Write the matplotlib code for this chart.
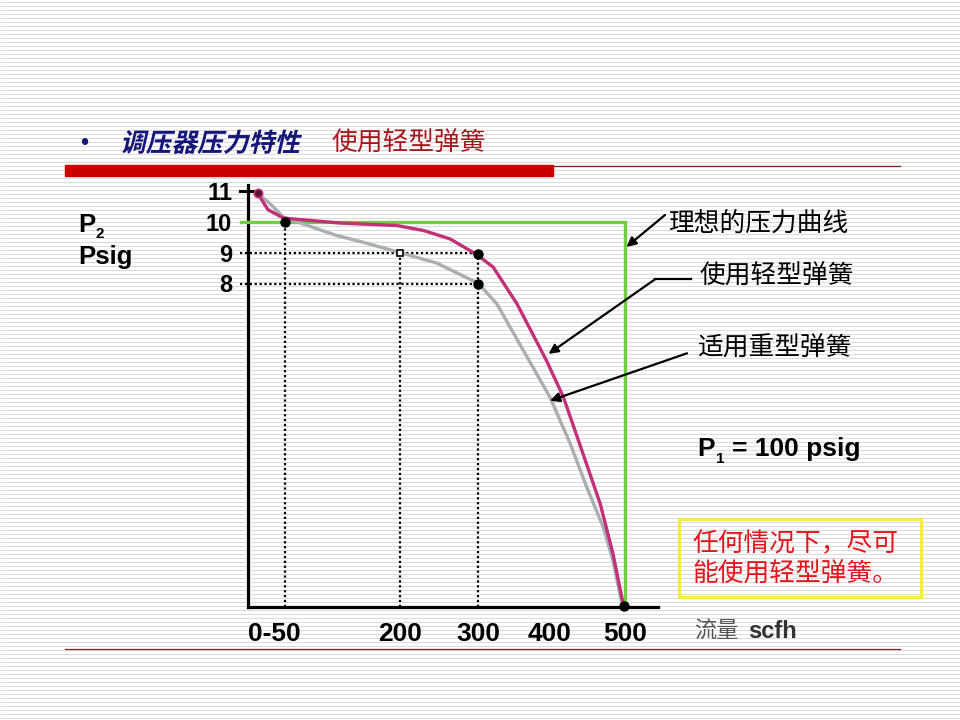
import numpy as np
import matplotlib
matplotlib.use("Agg")
import matplotlib.pyplot as plt
from matplotlib.patches import Rectangle
from matplotlib.patheffects import AbstractPathEffect
from matplotlib.transforms import Affine2D

plt.rcParams['font.family'] = ['Liberation Sans', 'Noto Sans CJK SC', 'DejaVu Sans']
CJK = ['Noto Sans CJK SC', 'DejaVu Sans']

# ---------------- data ----------------
light_x = [13, 27, 48, 122, 196, 230, 264, 298, 321, 354, 395, 418, 444, 467, 484, 493, 498]
light_y = [10.91, 10.38, 10.11, 9.95, 9.87, 9.71, 9.44, 8.94, 8.53, 7.35, 5.52, 4.33, 2.51, 0.89, -0.72, -1.80, -2.39]
heavy_x = [13, 30, 48, 117, 152, 198, 247, 300, 326, 363, 400, 427, 449, 471, 484, 496]
heavy_y = [10.91, 10.57, 10.14, 9.55, 9.33, 9.01, 8.66, 8.01, 7.35, 5.84, 4.33, 2.83, 1.43, 0.14, -0.94, -2.34]
ideal_p = 10
ideal_flow_max = 500
xtick_pos = [0, 200, 300, 400, 500]
xtick_labels = ['0-50', '200', '300', '400', '500']
ytick_pos = [8, 9, 10, 11]
ytick_labels = ['8', '9', '10', '11']
ref_points_x = [50, 300, 300, 498]
ref_points_y = [10, 8.95, 8, -2.4]
open_point = (200, 9)

# schematic (non-uniform) flow axis of the drawing: flow -> drawing units
flow_knots = [-100, 0, 50, 200, 300, 400, 500, 600]
draw_knots = [-74, 0, 37, 152, 230, 302, 377, 451]

def fwd(v):
    return np.interp(v, flow_knots, draw_knots)

def inv(v):
    return np.interp(v, draw_knots, flow_knots)


class Slant(AbstractPathEffect):
    def __init__(self, deg=12):
        super().__init__()
        self.deg = deg

    def draw_path(self, renderer, gc, tpath, affine, rgbFace=None):
        renderer.draw_path(gc, tpath, Affine2D().skew_deg(self.deg, 0) + affine, rgbFace)


W, H = 960, 720
fig = plt.figure(figsize=(9.6, 7.2), dpi=100)
fig.patch.set_facecolor('white')

# background stripes (decoration)
bg = fig.add_axes([0, 0, 1, 1], zorder=0)
bg.set_xlim(0, W); bg.set_ylim(H, 0); bg.axis('off')
for yy in np.arange(1.5, H, 4):
    bg.plot([0, W], [yy, yy], color='#dcdcdc', lw=0.8, solid_capstyle='butt')
bg.add_patch(Rectangle((65, 165), 488, 11, color='#cc0000', zorder=3))
bg.plot([553, 900], [165.5, 165.5], color='#8b1a1a', lw=0.9, zorder=3)
bg.plot([65, 900], [649, 649], color='#7a2a2a', lw=0.9, zorder=3)
bg.add_patch(Rectangle((679, 519), 242, 78, fill=False, edgecolor='#f2ef3a', lw=2.2, zorder=3))

# ---------------- main axes ----------------
ax = fig.add_axes([248 / W, 1 - 607 / H, 410 / W, (607 - 185) / H], zorder=2)
ax.set_facecolor('none')
ax.set_xscale('function', functions=(fwd, inv))
ax.set_xlim(0, float(inv(410)))
ax.set_ylim(11 - (607 - 190.5) / 31, 11 + (190.5 - 185) / 31)
for s in ['top', 'right']:
    ax.spines[s].set_visible(False)
for s in ['left', 'bottom']:
    ax.spines[s].set_linewidth(2.3)
    ax.spines[s].set_color('black')

ax.set_xticks(xtick_pos)
ax.set_xticklabels(xtick_labels, fontsize=19, fontweight='bold')
ax.set_yticks(ytick_pos)
ax.set_yticklabels(ytick_labels, fontsize=17, fontweight='bold')
ax.minorticks_off()
ax.tick_params(axis='both', which='both', length=0)
ax.tick_params(axis='x', pad=11)
ax.tick_params(axis='y', pad=11.5)
ax.get_xticklabels()[0].set_horizontalalignment('left')

ybot = ax.get_ylim()[0]
dot_ls = (0, (1, 1.2))
# tick mark at 11
ax.plot([-11, 13], [11, 11], color='black', lw=2.2, clip_on=False, zorder=4)

# dotted guides
ax.plot([-11, 300], [9, 9], color='black', lw=1.6, ls=dot_ls, clip_on=False, zorder=3)
ax.plot([-11, 300], [8, 8], color='black', lw=1.6, ls=dot_ls, clip_on=False, zorder=3)
ax.plot([50, 50], [ybot, 10], color='black', lw=1.6, ls=dot_ls, zorder=3)
ax.plot([200, 200], [ybot, 9], color='black', lw=1.6, ls=dot_ls, zorder=3)
ax.plot([300, 300], [ybot, 9], color='black', lw=1.6, ls=dot_ls, zorder=3)

# ideal curve
ax.plot([-9, ideal_flow_max, ideal_flow_max], [ideal_p, ideal_p, ybot],
        color='#6fcf3c', lw=2.4, clip_on=False, zorder=4, solid_joinstyle='miter')

# spring curves
ax.plot(heavy_x, heavy_y, color='#a9aeb3', lw=2.4, zorder=5, solid_capstyle='round')
ax.plot(light_x, light_y, color='#c23079', lw=2.4, zorder=6, solid_capstyle='round')

# points
ax.plot(ref_points_x, ref_points_y, 'o', color='black', ms=6.5, zorder=7, clip_on=False)
ax.plot([open_point[0]], [open_point[1]], 's', mfc='white', mec='black', mew=1.2, ms=5, zorder=7)
ax.plot([light_x[0]], [light_y[0]], 'o', mfc='#5a1030', mec='#c23079', mew=1.2, ms=6, zorder=7)

# arrows
arw = dict(arrowstyle='-|>', color='black', lw=1.6, mutation_scale=14, shrinkA=0, shrinkB=0)
ax.annotate('', xy=(502, 9.18), xycoords='data', xytext=(665, H - 215),
            textcoords='figure pixels', arrowprops=arw, zorder=8)
bg.plot([655, 691], [279.3, 279.3], color='black', lw=1.6, zorder=5)
ax.annotate('', xy=(398, 5.73), xycoords='data', xytext=(655, H - 279.3),
            textcoords='figure pixels', arrowprops=arw, zorder=8)
ax.annotate('', xy=(400, 4.22), xycoords='data', xytext=(687, H - 353.3),
            textcoords='figure pixels', arrowprops=arw, zorder=8)

# ---------------- texts ----------------
def ftext(x, y, s, **kw):
    return fig.text(x / W, 1 - y / H, s, **kw)

ftext(80, 144, '•', color='#15157a', fontsize=17, va='center', ha='left')
ftext(120, 144, '调压器压力特性', family=CJK, color='#15157a', fontsize=18.5,
      fontweight='bold', va='center', ha='left', path_effects=[Slant(13)])
ftext(332, 144, '使用轻型弹簧', family=CJK, color='#a3181c', fontsize=18.5, va='center', ha='left')

ftext(78, 232, 'P', fontsize=18.5, fontweight='bold', va='baseline', ha='left')
ftext(96, 238, '2', fontsize=11, fontweight='bold', va='baseline', ha='left')
ftext(78, 264, 'Psig', fontsize=18.5, fontweight='bold', va='baseline', ha='left')

ftext(668, 224, '理想的压力曲线', family=CJK, fontsize=18.5, va='center', ha='left')
ftext(700, 277, '使用轻型弹簧', family=CJK, fontsize=18.5, va='center', ha='left')
ftext(697, 349, '适用重型弹簧', family=CJK, fontsize=18.5, va='center', ha='left')

ftext(697, 456, 'P', fontsize=19, fontweight='bold', va='baseline', ha='left')
ftext(716, 463, '1', fontsize=11, fontweight='bold', va='baseline', ha='left')
ftext(732, 456, '= 100 psig', fontsize=19, fontweight='bold', va='baseline', ha='left')

ftext(692, 544, '任何情况下，尽可', family=CJK, color='#e3141c', fontsize=18.5, va='center', ha='left')
ftext(692, 575, '能使用轻型弹簧。', family=CJK, color='#e3141c', fontsize=18.5, va='center', ha='left')

ftext(694, 631, '流量', family=CJK, color='#555555', fontsize=16, va='center', ha='left')
ftext(748, 631, 'scfh', color='#333333', fontsize=17, fontweight='bold', va='center', ha='left')

fig.savefig('out.png', dpi=100, facecolor='white')
